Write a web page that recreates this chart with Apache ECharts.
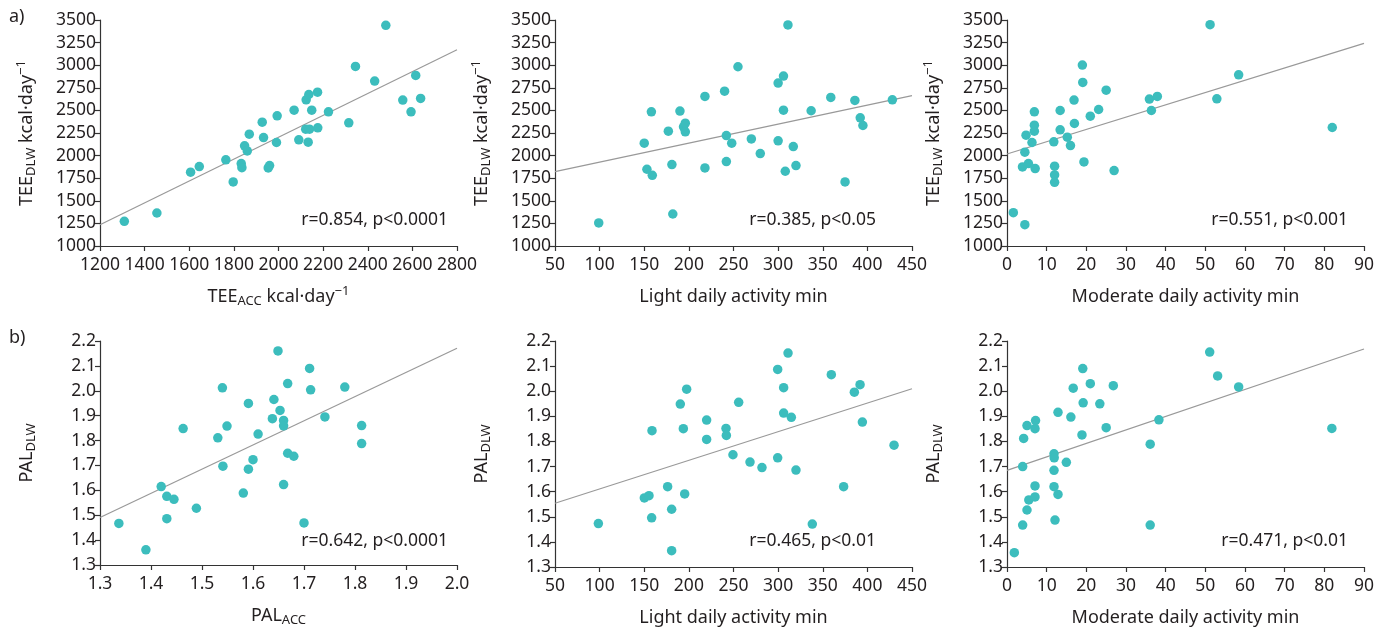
<!DOCTYPE html>
<html>
<head>
<meta charset="utf-8">
<script src="https://cdn.jsdelivr.net/npm/echarts@6/dist/echarts.min.js"></script>
<style>
html,body{margin:0;padding:0;background:#fff;}
#chart{width:1386px;height:628px;}
</style>
</head>
<body>
<div id="chart"></div>
<script>
// ---- Panel a1: TEE_ACC vs TEE_DLW ----
const teeAcc1 = [1309,1455,1606,1645,1764,1797,1833,1836,1848,1860,1869,1927,1933,1954,1960,1994,1991,2070,2091,2124,2136,2122,2139,2133,2149,2175,2176,2224,2315,2345,2431,2481,2557,2594,2615,2637];
const teeDlw1 = [1273,1365,1816,1879,1953,1709,1912,1866,2108,2052,2237,2370,2200,1864,1890,2440,2145,2503,2174,2617,2676,2292,2292,2148,2503,2702,2307,2484,2363,2987,2824,3441,2614,2484,2887,2632];
const fit1 = [[1200,1235],[2800,3170]];
// ---- Panel a2: Light activity vs TEE_DLW ----
const light2 = [99,150,153,159,158,177,181,182,190,194,196,196,218,218,240,242,242,248,255,270,280,300,300,306,306,311,308,317,320,337,359,375,386,392,395,428];
const teeDlw2 = [1255,2137,1849,1782,2484,2270,1901,1354,2492,2318,2359,2263,2654,1864,2713,2222,1934,2137,2983,2185,2023,2802,2163,2880,2503,3445,1827,2100,1890,2496,2643,1709,2610,2418,2333,2617];
const fit2 = [[50,1822],[450,2663]];
// ---- Panel a3: Moderate activity vs TEE_DLW ----
const mod3 = [1.6,4.5,3.9,4.5,4.8,5.4,6.3,6.9,6.9,6.9,7.1,11.8,12.0,12.0,12.0,13.4,13.4,15.2,16.0,16.9,17.0,19.0,19.1,19.4,21.0,23.1,25.0,27.0,35.9,36.4,37.9,51.2,52.9,58.4,82.0];
const teeDlw3 = [1369,1236,1875,2038,2226,1912,2145,2484,2337,2270,1857,2152,1883,1786,1705,2285,2499,2204,2111,2614,2355,3001,2809,1930,2436,2510,2724,1834,2625,2499,2654,3448,2628,2894,2311];
const fit3 = [[0,2018],[90,3242]];
// ---- Panel b1: PAL_ACC vs PAL_DLW ----
const palAcc4 = [1.337,1.390,1.420,1.431,1.431,1.445,1.463,1.489,1.531,1.540,1.541,1.549,1.581,1.591,1.591,1.600,1.610,1.638,1.641,1.649,1.653,1.660,1.660,1.660,1.668,1.668,1.680,1.700,1.711,1.713,1.741,1.780,1.813,1.813];
const palDlw4 = [1.467,1.361,1.615,1.576,1.486,1.564,1.848,1.528,1.811,2.012,1.697,1.858,1.589,1.685,1.949,1.723,1.826,1.888,1.965,2.160,1.921,1.881,1.859,1.623,2.029,1.749,1.737,1.469,2.090,2.004,1.895,2.015,1.860,1.788];
const fit4 = [[1.3,1.491],[2.0,2.171]];
// ---- Panel b2: Light activity vs PAL_DLW ----
const light5 = [98.6,150.1,155.3,158.3,158.7,176.2,180.7,180.7,190.4,193.8,195.3,197.5,219.9,219.9,241.6,242,249.4,255.8,268.5,281.9,299.5,299.5,306.2,306.2,311.1,314.8,320,338.3,359.6,373.4,385.4,391.8,394.4,429.9];
const palDlw5 = [1.473,1.575,1.584,1.496,1.843,1.620,1.530,1.365,1.949,1.851,1.591,2.008,1.885,1.808,1.852,1.824,1.747,1.956,1.718,1.696,2.087,1.735,2.014,1.913,2.152,1.896,1.686,1.471,2.066,1.620,1.996,2.026,1.877,1.785];
const fit5 = [[50,1.554],[450,2.010]];
// ---- Panel b3: Moderate activity vs PAL_DLW ----
const mod6 = [1.85,3.95,3.95,4.2,5.04,5.04,5.5,7.06,7.2,7.06,7.06,11.85,11.9,11.85,11.85,12.1,12.86,12.86,14.96,16.1,16.7,18.9,19.1,19.2,21.0,23.4,25.0,26.8,36.1,36.1,38.3,51.1,53.1,58.4,81.9];
const palDlw6 = [1.357,1.467,1.700,1.812,1.863,1.527,1.567,1.851,1.883,1.623,1.579,1.751,1.735,1.685,1.620,1.487,1.916,1.589,1.717,1.897,2.012,1.826,2.090,1.954,2.030,1.950,1.855,2.022,1.789,1.467,1.886,2.156,2.061,2.017,1.852];
const fit6 = [[0,1.685],[90,2.168]];

const stats = ['r=0.854, p<0.0001','r=0.385, p<0.05','r=0.551, p<0.001','r=0.642, p<0.0001','r=0.465, p<0.01','r=0.471, p<0.01'];
const xNames = ['{b|TEE}{sub|ACC}{b| kcal·day}{sup|−1}','{b|Light daily activity min}','{b|Moderate daily activity min}','{b|PAL}{sub|ACC}','{b|Light daily activity min}','{b|Moderate daily activity min}'];
const yNames = ['{b|TEE}{sub|DLW}{b| kcal·day}{sup|−1}','{b|TEE}{sub|DLW}{b| kcal·day}{sup|−1}','{b|TEE}{sub|DLW}{b| kcal·day}{sup|−1}','{b|PAL}{sub|DLW}','{b|PAL}{sub|DLW}','{b|PAL}{sub|DLW}'];
const xRanges = [[1200,2800,200],[50,450,50],[0,90,10],[1.3,2.0,0.1],[50,450,50],[0,90,10]];
const yRanges = [[1000,3500,250],[1000,3500,250],[1000,3500,250],[1.3,2.2,0.1],[1.3,2.2,0.1],[1.3,2.2,0.1]];
const panelLabels = ['a)','b)'];

const xs = [teeAcc1, light2, mod3, palAcc4, light5, mod6];
const ys = [teeDlw1, teeDlw2, teeDlw3, palDlw4, palDlw5, palDlw6];
const fits = [fit1, fit2, fit3, fit4, fit5, fit6];

const FONT = '"Noto Sans", sans-serif';
const TXT = '#231f20';
const rich = {
  b: {fontSize: 18, fontFamily: FONT, color: TXT, lineHeight: 23},
  sub: {fontSize: 13, fontFamily: FONT, color: TXT, lineHeight: 11, verticalAlign: 'bottom'},
  sup: {fontSize: 13, fontFamily: FONT, color: TXT, lineHeight: 11, verticalAlign: 'top'}
};

const lefts = [100, 555, 1007];
const tops = [20, 341];
const grids = [], xAxes = [], yAxes = [], series = [], titles = [];
for (let i = 0; i < 6; i++) {
  const col = i % 3, row = Math.floor(i / 3);
  grids.push({left: lefts[col], top: tops[row], width: 357, height: 226, containLabel: false});
  const dec = xRanges[i][2] < 1;
  xAxes.push({
    type: 'value', gridIndex: i, min: xRanges[i][0], max: xRanges[i][1], interval: xRanges[i][2],
    name: xNames[i], nameLocation: 'middle', nameGap: 39,
    nameTextStyle: {rich: rich},
    axisLine: {show: true, onZero: false, lineStyle: {color: '#333', width: 1.2}},
    axisTick: {show: true, length: 5, lineStyle: {color: '#333', width: 1.2}},
    axisLabel: {fontSize: 17.5, fontFamily: FONT, color: TXT, margin: 10,
      formatter: dec ? (v => v.toFixed(1)) : (v => String(v))},
    splitLine: {show: false}
  });
  const ydec = yRanges[i][2] < 1;
  yAxes.push({
    type: 'value', gridIndex: i, min: yRanges[i][0], max: yRanges[i][1], interval: yRanges[i][2],
    name: yNames[i], nameLocation: 'middle', nameGap: 62, nameRotate: 90,
    nameTextStyle: {rich: rich},
    axisLine: {show: true, onZero: false, lineStyle: {color: '#333', width: 1.2}},
    axisTick: {show: true, length: 5, lineStyle: {color: '#333', width: 1.2}},
    axisLabel: {fontSize: 17.5, fontFamily: FONT, color: TXT, margin: 4,
      formatter: ydec ? (v => v.toFixed(1)) : (v => String(v))},
    splitLine: {show: false}
  });
  series.push({
    type: 'line', xAxisIndex: i, yAxisIndex: i, data: fits[i], symbol: 'none', silent: true,
    lineStyle: {color: '#999', width: 1.2}, z: 1
  });
  series.push({
    type: 'scatter', xAxisIndex: i, yAxisIndex: i,
    data: xs[i].map((x, k) => [x, ys[i][k]]),
    symbolSize: 9.5, itemStyle: {color: '#3cbdbd', opacity: 1}, z: 2
  });
  titles.push({
    text: stats[i], right: [938, 510, 38][col], top: [211, 532][row],
    textStyle: {fontSize: 17.5, fontFamily: FONT, color: TXT, fontWeight: 'normal'}, padding: 0
  });
}
titles.push({text: panelLabels[0], left: 9, top: 8, padding: 0, textStyle: {fontSize: 18, fontFamily: FONT, color: TXT, fontWeight: 'normal'}});
titles.push({text: panelLabels[1], left: 9, top: 329, padding: 0, textStyle: {fontSize: 18, fontFamily: FONT, color: TXT, fontWeight: 'normal'}});

const chart = echarts.init(document.getElementById('chart'), null, {renderer: 'canvas'});
chart.setOption({
  animation: false,
  backgroundColor: '#fff',
  title: titles,
  grid: grids,
  xAxis: xAxes,
  yAxis: yAxes,
  series: series
});
</script>
</body>
</html>
